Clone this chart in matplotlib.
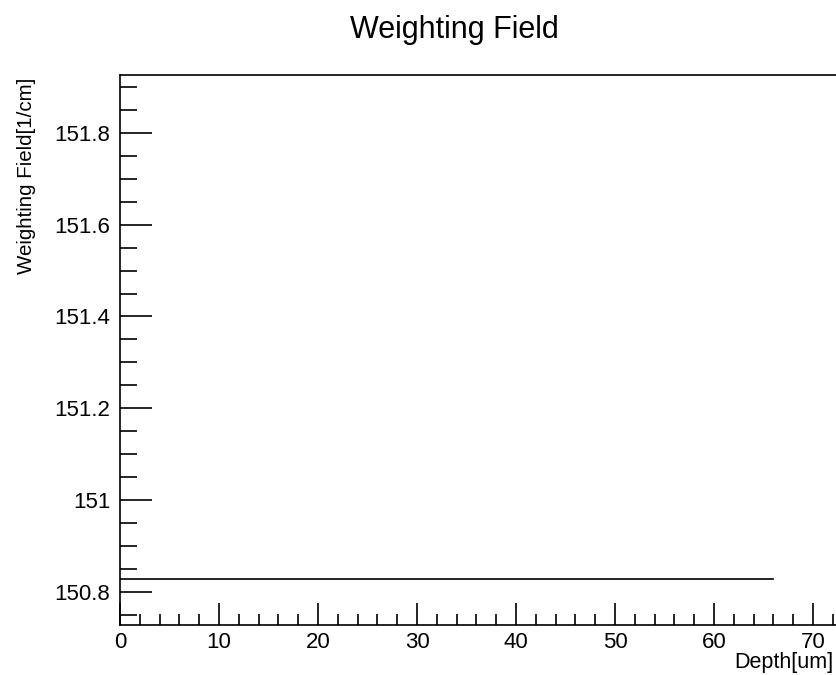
import matplotlib
matplotlib.use("Agg")
import matplotlib.pyplot as plt
from matplotlib.ticker import MultipleLocator, FuncFormatter

# Weighting field vs. depth (constant across the sensor thickness)
depth_um = [0, 66.0]
weighting_field = [150.828, 150.828]

title = "Weighting Field"
x_label = "Depth[um]"
y_label = "Weighting Field[1/cm]"

plt.rcParams['font.family'] = ['Liberation Sans', 'DejaVu Sans']

W, H = 836, 675
fig = plt.figure(figsize=(W / 100, H / 100), dpi=100)

left_px, right_px, top_px, bottom_px = 120, 845, 75, 625
ax = fig.add_axes([left_px / W, 1 - bottom_px / H,
                   (right_px - left_px) / W, (bottom_px - top_px) / H])

ax.plot(depth_um, weighting_field, color='black', lw=1.2)

ax.set_xlim(0, (right_px - left_px) / 9.9)
ax.set_ylim(150.728, 151.926)

ax.xaxis.set_major_locator(MultipleLocator(10))
ax.xaxis.set_minor_locator(MultipleLocator(2))
ax.yaxis.set_major_locator(MultipleLocator(0.2))
ax.yaxis.set_minor_locator(MultipleLocator(0.05))


def fmt(v, pos):
    s = f"{v:.1f}"
    return s[:-2] if s.endswith(".0") else s


ax.yaxis.set_major_formatter(FuncFormatter(fmt))
ax.xaxis.set_major_formatter(FuncFormatter(lambda v, p: f"{v:.0f}"))

ax.tick_params(axis='both', which='both', direction='in', color='black',
               width=1.2, labelsize=16)
ax.tick_params(axis='y', which='major', length=23, pad=7)
ax.tick_params(axis='y', which='minor', length=12)
ax.tick_params(axis='x', which='major', length=16, pad=5)
ax.tick_params(axis='x', which='minor', length=8)
for sp in ax.spines.values():
    sp.set_linewidth(1.2)

fig.text(454 / W, 1 - 38 / H, title, ha='center', va='baseline', fontsize=22)
fig.text(833 / W, 1 - 668 / H, x_label, ha='right', va='baseline', fontsize=15.5)
fig.text(17 / W, 1 - 78 / H, y_label, rotation=90, ha='left', va='top',
         fontsize=14.8)

fig.savefig("out.png", dpi=100)
